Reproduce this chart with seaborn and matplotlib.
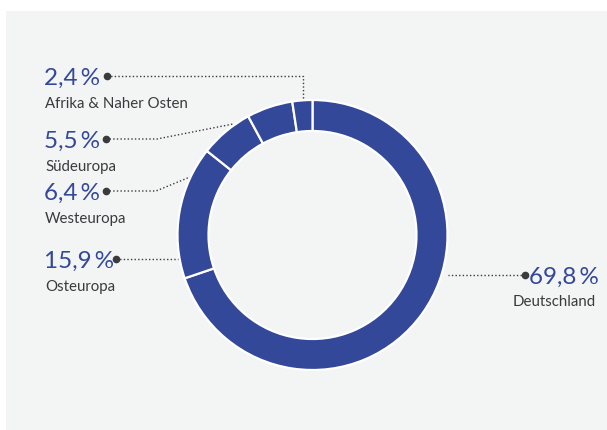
import matplotlib.pyplot as plt
import seaborn as sns
from matplotlib.patches import Rectangle

# data
regions = ["Deutschland", "Osteuropa", "Westeuropa", "Südeuropa", "Afrika & Naher Osten"]
shares = [69.8, 15.9, 6.4, 5.5, 2.4]
pct_labels = ["69,8\u2009%", "15,9\u2009%", "6,4\u2009%", "5,5\u2009%", "2,4\u2009%"]

# layout (pixel coords, y from top): dot position and leader path to the ring
dots = [(525, 275), (116, 259), (106, 191), (106, 139), (107, 76)]
paths = [
    [(448, 275)],
    [(178, 259)],
    [(156, 191), (190, 177)],
    [(157, 139), (233, 124)],
    [(303, 76), (303, 100)],
]

BLUE = "#34489a"
GREY = "#3a3b3d"
BG = "#f3f4f4"
W, H = 607, 430

sns.set_theme(style="white")
plt.rcParams["font.family"] = ["Lato", "DejaVu Sans"]

fig = plt.figure(figsize=(W / 100, H / 100), dpi=100)
fig.patch.set_facecolor("white")
fig.add_artist(Rectangle((6 / W, 0), 1, 1 - 11 / H, transform=fig.transFigure,
                         facecolor=BG, edgecolor="none", zorder=0))

ax = fig.add_axes([0, 0, 1, 1])
ax.set_facecolor("none")

cx, cy = 312.5, H - 235
ax.pie(shares, startangle=90, counterclock=False, colors=[BLUE] * len(shares),
       center=(cx, cy), radius=135,
       wedgeprops=dict(width=31, edgecolor="white", linewidth=1.6))


def fy(y):
    return H - y


for (dx, dy), path in zip(dots, paths):
    xs = [dx] + [p[0] for p in path]
    ys = [fy(dy)] + [fy(p[1]) for p in path]
    ax.plot(xs, ys, color=GREY, lw=1.0, ls=(0, (1, 1.6)), zorder=3)
    ax.plot(dx, fy(dy), "o", color=GREY, ms=4.5, zorder=4)

# labels
for i, (name, pct) in enumerate(zip(regions, pct_labels)):
    dx, dy = dots[i]
    if i == 0:
        ax.text(dx + 4, fy(dy), pct, color=BLUE, fontsize=17.5, fontweight="normal",
                ha="left", va="center_baseline")
        ax.text(596, fy(dy + 26), name, color=GREY, fontsize=10.8,
                ha="right", va="center_baseline")
    else:
        ax.text(44, fy(dy), pct, color=BLUE, fontsize=17.5, fontweight="normal",
                ha="left", va="center_baseline")
        ax.text(45, fy(dy + 26), name, color=GREY, fontsize=10.8,
                ha="left", va="center_baseline")

ax.set_xlim(0, W)
ax.set_ylim(0, H)
ax.set_aspect("equal")
ax.axis("off")

fig.savefig("out.png", dpi=100, facecolor="white")
plt.close(fig)
